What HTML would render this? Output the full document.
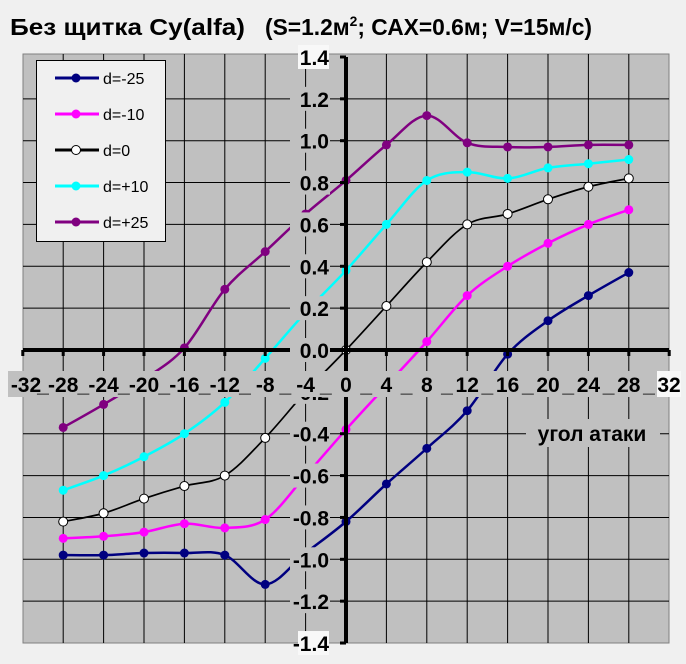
<!DOCTYPE html>
<html><head><meta charset="utf-8"><style>
body{margin:0;background:#f0f0f0;}
svg{display:block;font-family:"Liberation Sans",Arial,sans-serif;}
</style></head><body>
<svg id="s" width="686" height="664" xmlns="http://www.w3.org/2000/svg">
<rect width="686" height="664" fill="#f0f0f0"/>
<text x="10" y="35" font-size="23" font-weight="bold" fill="#000" textLength="235" lengthAdjust="spacingAndGlyphs">Без щитка Cy(alfa)</text>
<text x="265" y="35" font-size="23" font-weight="bold" fill="#000" textLength="327" lengthAdjust="spacingAndGlyphs">(S=1.2м<tspan dy="-9" font-size="14">2</tspan><tspan dy="9">; САХ=0.6м; V=15м/с)</tspan></text>
<rect x="23" y="54" width="646" height="589" fill="#c0c0c0" stroke="#808080" stroke-width="1"/>
<g id="grid" stroke="#000" stroke-width="1"></g>
<g id="series"></g>
<g id="labels"></g>
</svg>
<script>
var NS="http://www.w3.org/2000/svg";
function X(a){return 346+(a)*10.1;}
function Y(c){return 350-c*209.3;}
function el(t,at,p,txt){var e=document.createElementNS(NS,t);for(var k in at)e.setAttribute(k,at[k]);if(txt!==undefined)e.textContent=txt;p.appendChild(e);return e;}
var g=document.getElementById('grid');
for(var a=-28;a<=28;a+=4){if(a==0)continue;el('line',{x1:X(a),x2:X(a),y1:54,y2:643},g);}
for(var i=-6;i<=6;i++){if(i==0)continue;var y=Y(i*0.2);el('line',{x1:23,x2:669,y1:y,y2:y},g);}
var S=[
 {c:'#000080',f:'#000080',w:2.5,d:[-0.98,-0.98,-0.97,-0.97,-0.98,-1.12,-0.97,-0.82,-0.64,-0.47,-0.29,-0.02,0.14,0.26,0.37]},
 {c:'#ff00ff',f:'#ff00ff',w:2.5,d:[-0.9,-0.89,-0.87,-0.83,-0.85,-0.81,-0.6,-0.38,-0.17,0.04,0.26,0.4,0.51,0.6,0.67]},
 {c:'#000',f:'#fff',w:1.7,d:[-0.82,-0.78,-0.71,-0.65,-0.6,-0.42,-0.2,0,0.21,0.42,0.6,0.65,0.72,0.78,0.82]},
 {c:'#00ffff',f:'#00ffff',w:2.5,d:[-0.67,-0.6,-0.51,-0.4,-0.25,-0.04,0.18,0.38,0.6,0.81,0.85,0.82,0.87,0.89,0.91]},
 {c:'#800080',f:'#800080',w:2.5,d:[-0.37,-0.26,-0.14,0.01,0.29,0.47,0.65,0.81,0.98,1.12,0.99,0.97,0.97,0.98,0.98]}];
var sg=document.getElementById('series');
S.forEach(function(s){
 var P=s.d.map(function(v,i){return [X(-28+4*i),Y(v)];});
 var d='M'+P[0][0]+','+P[0][1];
 for(var i=0;i<P.length-1;i++){var p0=P[i-1]||P[i],p1=P[i],p2=P[i+1],p3=P[i+2]||p2;
  d+=' C'+(p1[0]+(p2[0]-p0[0])/6)+','+(p1[1]+(p2[1]-p0[1])/6)+' '+(p2[0]-(p3[0]-p1[0])/6)+','+(p2[1]-(p3[1]-p1[1])/6)+' '+p2[0]+','+p2[1];}
 el('path',{d:d,fill:'none',stroke:s.c,'stroke-width':s.w},sg);
 P.forEach(function(p){el('circle',{cx:p[0],cy:p[1],r:4.5,fill:s.f,stroke:s.c,'stroke-width':s.f=='#fff'?1:0},sg);});
});
var L=document.getElementById('labels');
el('line',{x1:346,x2:346,y1:57,y2:643,stroke:'#000','stroke-width':4},L);
el('line',{x1:23,x2:669,y1:350,y2:350,stroke:'#000','stroke-width':4},L);
for(var a=-32;a<=32;a+=4){el('line',{x1:X(a),x2:X(a),y1:350,y2:356,stroke:'#000','stroke-width':3},L);}
for(var i=-7;i<=7;i++){var y=Y(i*0.2);el('line',{x1:340,x2:346,y1:y,y2:y,stroke:'#000','stroke-width':3},L);}
for(var i=-7;i<=7;i++){var v=i*0.2,y=Y(v);var t=(v<0?'-':'')+Math.abs(v).toFixed(1);
 var edge=(i==7||i==-7);
 el('rect',{x:edge?298:290,y:y-12,width:edge?31:40,height:24,fill:edge?'#f8f8f8':'#c0c0c0'},L);
 el('text',{x:329,y:y+8,'font-size':21,'font-weight':'bold','text-anchor':'end',fill:'#000'},L,t);}
el('rect',{x:8,y:371,width:652,height:26,fill:'#c0c0c0'},L);
el('rect',{x:657,y:371,width:24,height:26,fill:'#f8f8f8'},L);
var xs=[];for(var a=-32;a<=32;a+=4)xs.push(a);
xs.forEach(function(a,k){var x=X(a);if(a==-32)x=26;if(a==32)x=669;
 el('text',{x:x,y:392,'font-size':21,'font-weight':'bold','text-anchor':'middle',fill:'#000'},L,String(a));
 if(k<xs.length-1){var nx=X(a+2);el('text',{x:nx,y:392,'font-size':21,'font-weight':'bold','text-anchor':'middle',fill:'#000'},L,'_');}
});
el('rect',{x:526,y:419,width:134,height:28,fill:'#c0c0c0'},L);
el('text',{x:592,y:441,'font-size':21,'font-weight':'bold','text-anchor':'middle',fill:'#000'},L,'угол атаки');
el('rect',{x:36.5,y:60.5,width:129,height:181,fill:'#f0f0f0',stroke:'#000','stroke-width':1},L);
var names=['d=-25','d=-10','d=0','d=+10','d=+25'],ly=[78,114,150,186,222];
S.forEach(function(s,i){el('line',{x1:55,x2:99,y1:ly[i],y2:ly[i],stroke:s.c,'stroke-width':3},L);
 el('circle',{cx:76,cy:ly[i],r:4.5,fill:s.f,stroke:s.c,'stroke-width':s.f=='#fff'?1:0},L);
 el('text',{x:103,y:ly[i]+6,'font-size':16,fill:'#000'},L,names[i]);});
</script>
</body></html>
